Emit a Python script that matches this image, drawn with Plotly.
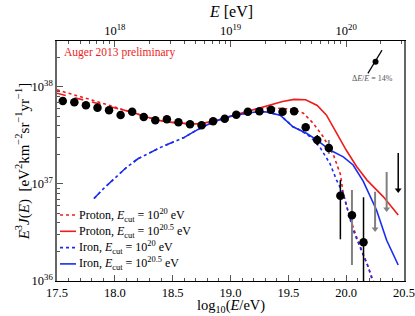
import numpy as np
import plotly.graph_objects as go

# ---------------- data (log10 values) ----------------
# Auger 2013 preliminary points
pts_x = [17.55, 17.65, 17.75, 17.85, 17.95, 18.05, 18.15, 18.25, 18.35, 18.45, 18.55, 18.65,
         18.75, 18.85, 18.95, 19.05, 19.15, 19.25, 19.35, 19.45, 19.55, 19.65, 19.75, 19.85,
         19.95, 20.05, 20.15]
pts_y = [37.856, 37.842, 37.811, 37.787, 37.760, 37.711, 37.745, 37.691, 37.657, 37.667, 37.636,
         37.615, 37.605, 37.646, 37.673, 37.714, 37.745, 37.749, 37.766, 37.745, 37.749, 37.585,
         37.454, 37.371, 36.879, 36.677, 36.399]

# error bars (x, low, high, colour group)
err_black_x = [19.75, 19.95, 20.15]
err_black_lo = [37.402, 36.430, 35.500]
err_black_hi = [37.505, 37.041, 36.863]
err_grey_x = [19.85, 20.05]
err_grey_lo = [37.310, 36.165]
err_grey_hi = [37.454, 36.938]

# upper limits
ul_grey_x = [20.25, 20.35]
ul_grey_top = [36.920, 37.124]
ul_grey_bot = [36.536, 36.742]
ul_black_x = [20.45]
ul_black_top = [37.320]
ul_black_bot = [36.938]

# Proton curves
p_low_x = [17.5, 17.6, 17.7, 17.8, 17.9, 18.0, 18.05]
p20_low_y = [37.970, 37.937, 37.903, 37.866, 37.830, 37.792, 37.770]
p205_low_y = [37.935, 37.905, 37.874, 37.845, 37.815, 37.786, 37.770]
p_mid_x = [18.05, 18.15, 18.25, 18.35, 18.45, 18.55, 18.65, 18.75, 18.85, 18.95, 19.05, 19.15, 19.25]
p_mid_y = [37.770, 37.740, 37.700, 37.665, 37.640, 37.628, 37.620, 37.622, 37.645, 37.675, 37.715,
           37.750, 37.780]
p205_hi_x = [19.25, 19.35, 19.45, 19.55, 19.65, 19.75, 19.83, 19.92, 20.00, 20.09, 20.18, 20.32, 20.45]
p205_hi_y = [37.780, 37.815, 37.850, 37.872, 37.868, 37.810, 37.710, 37.520, 37.350, 37.180, 37.040,
             36.870, 36.680]
p20_hi_x = [19.25, 19.35, 19.45, 19.54, 19.63, 19.715, 19.80, 19.89, 19.95, 19.975, 20.03, 20.10,
            20.18, 20.25]
p20_hi_y = [37.780, 37.785, 37.780, 37.770, 37.730, 37.626, 37.490, 37.300, 37.100, 36.900, 36.660,
            36.420, 36.180, 35.950]

# Iron curves
fe_low_x = [17.82, 17.9, 18.0, 18.1, 18.2, 18.3, 18.4, 18.5, 18.6]
fe_low_y = [36.850, 36.950, 37.060, 37.170, 37.260, 37.320, 37.380, 37.430, 37.480]
fe_mid_x = [18.6, 18.7, 18.8, 18.9, 19.0, 19.1, 19.2, 19.3, 19.43, 19.54]
fe_mid_y = [37.480, 37.550, 37.610, 37.660, 37.700, 37.720, 37.740, 37.745, 37.710, 37.590]
fe205_hi_x = [19.54, 19.66, 19.745, 19.86, 19.975, 20.06, 20.147, 20.263, 20.35, 20.45]
fe205_hi_y = [37.590, 37.520, 37.454, 37.350, 37.280, 37.196, 37.030, 36.730, 36.420, 36.165]
fe20_hi_x = [19.54, 19.60, 19.687, 19.77, 19.86, 19.917, 19.975, 20.06, 20.13, 20.19, 20.24]
fe20_hi_y = [37.590, 37.556, 37.490, 37.385, 37.210, 37.040, 36.900, 36.526, 36.320, 36.147, 35.950]

# energy-scale uncertainty marker
de_x = [20.254]
de_y = [38.26]
de_line_x = [20.188, 20.31]
de_line_y = [38.14, 38.38]

x_ticks = [17.5, 18.0, 18.5, 19.0, 19.5, 20.0, 20.5]
x_ticklabels = ["17.5", "18.0", "18.5", "19.0", "19.5", "20.0", "20.5"]
top_ticks = [18, 19, 20]
top_ticklabels = ["10<sup>18</sup>", "10<sup>19</sup>", "10<sup>20</sup>"]
y_ticks = [36.0, 37.0, 38.0]
y_ticklabels = ["10<sup>36</sup>", "10<sup>37</sup>", "10<sup>38</sup>"]

legend_labels = ["Proton, <i>E</i><sub>cut</sub> = 10<sup>20</sup> eV",
                 "Proton, <i>E</i><sub>cut</sub> = 10<sup>20.5</sup> eV",
                 "Iron, <i>E</i><sub>cut</sub> = 10<sup>20</sup> eV",
                 "Iron, <i>E</i><sub>cut</sub> = 10<sup>20.5</sup> eV"]

# ---------------- figure ----------------
RED = "#ee1c1c"
BLUE = "#1a2cf0"
GREY = "#808080"
FONT = "Liberation Serif, DejaVu Serif, serif"
legend_colors = [RED, RED, BLUE, BLUE]
legend_dash = ["dot", "solid", "dot", "solid"]

def P(v):
    return [10.0 ** a for a in v]

fig = go.Figure()

# Proton 10^20 dotted
fig.add_trace(go.Scatter(x=p_low_x + p_mid_x[1:] + p20_hi_x[1:], y=P(p20_low_y + p_mid_y[1:] + p20_hi_y[1:]),
                         mode="lines", line=dict(color=RED, width=1.6, dash="dot"),
                         name=legend_labels[0], showlegend=False))
# Proton 10^20.5
fig.add_trace(go.Scatter(x=p_low_x, y=P(p205_low_y), mode="lines",
                         line=dict(color=RED, width=1.6, dash="dash"), showlegend=False))
fig.add_trace(go.Scatter(x=p_mid_x + p205_hi_x[1:], y=P(p_mid_y + p205_hi_y[1:]), mode="lines",
                         line=dict(color=RED, width=1.6),
                         name=legend_labels[1], showlegend=False))
# Iron 10^20 dotted
fig.add_trace(go.Scatter(x=fe_low_x + fe_mid_x[1:] + fe20_hi_x[1:], y=P(fe_low_y + fe_mid_y[1:] + fe20_hi_y[1:]),
                         mode="lines", line=dict(color=BLUE, width=1.6, dash="dot"),
                         name=legend_labels[2], showlegend=False))
# Iron 10^20.5
fig.add_trace(go.Scatter(x=fe_low_x, y=P(fe_low_y), mode="lines",
                         line=dict(color=BLUE, width=1.6, dash="dash"), showlegend=False))
fig.add_trace(go.Scatter(x=fe_mid_x + fe205_hi_x[1:], y=P(fe_mid_y + fe205_hi_y[1:]), mode="lines",
                         line=dict(color=BLUE, width=1.6),
                         name=legend_labels[3], showlegend=False))

# error bars
def vbars(xs, lo, hi):
    X, Y = [], []
    for a, l, h in zip(xs, lo, hi):
        X += [a, a, None]
        Y += [10.0 ** l, 10.0 ** h, None]
    return X, Y

X, Y = vbars(err_black_x, err_black_lo, err_black_hi)
fig.add_trace(go.Scatter(x=X, y=Y, mode="lines", line=dict(color="black", width=1.5), showlegend=False))
X, Y = vbars(err_grey_x, err_grey_lo, err_grey_hi)
fig.add_trace(go.Scatter(x=X, y=Y, mode="lines", line=dict(color=GREY, width=2), showlegend=False))
X, Y = vbars(ul_grey_x, ul_grey_bot, ul_grey_top)
fig.add_trace(go.Scatter(x=X, y=Y, mode="lines", line=dict(color=GREY, width=2), showlegend=False))
fig.add_trace(go.Scatter(x=ul_grey_x, y=P(ul_grey_bot), mode="markers",
                         marker=dict(symbol="triangle-down", size=6, color=GREY), showlegend=False))
X, Y = vbars(ul_black_x, ul_black_bot, ul_black_top)
fig.add_trace(go.Scatter(x=X, y=Y, mode="lines", line=dict(color="black", width=1.5), showlegend=False))
fig.add_trace(go.Scatter(x=ul_black_x, y=P(ul_black_bot), mode="markers",
                         marker=dict(symbol="triangle-down", size=6, color="black"), showlegend=False))

# data points
fig.add_trace(go.Scatter(x=pts_x, y=P(pts_y), mode="markers",
                         marker=dict(color="black", size=8.5), showlegend=False))

# energy-scale marker
fig.add_trace(go.Scatter(x=de_line_x, y=P(de_line_y), mode="lines",
                         line=dict(color="black", width=1.2), showlegend=False))
fig.add_trace(go.Scatter(x=de_x, y=P(de_y), mode="markers",
                         marker=dict(color="black", size=6), showlegend=False))

# invisible trace for top axis
fig.add_trace(go.Scatter(x=[18.0, 20.0], y=[1e37, 1e37], xaxis="x2", mode="markers",
                         marker=dict(opacity=0), showlegend=False, hoverinfo="skip"))

top_minor = [float(np.log10(m * 10.0 ** e)) for e in (17, 18, 19, 20) for m in range(2, 10)
             if 17.5 < np.log10(m * 10.0 ** e) < 20.5]
y_minor = [m * 10.0 ** e for e in (36, 37, 38) for m in range(2, 10) if m * 10.0 ** e < 10.0 ** 38.474]

# custom compact legend (short line samples like the original)
PLOT_W, PLOT_H = 347.0, 240.0
shapes = []
annotations = []
for i, (lab, col, dsh) in enumerate(zip(legend_labels, legend_colors, legend_dash)):
    ypix = 66 - i * 16.3  # pixels above the bottom axis
    yp = ypix / PLOT_H
    shapes.append(dict(type="line", xref="paper", yref="paper", x0=3 / PLOT_W, x1=19 / PLOT_W,
                       y0=yp, y1=yp, line=dict(color=col, width=1.6, dash=dsh)))
    annotations.append(dict(text=lab, xref="paper", yref="paper", x=20 / PLOT_W, y=yp,
                            xanchor="left", yanchor="middle", showarrow=False,
                            font=dict(size=12, family=FONT)))

annotations += [
    dict(text="Auger 2013 preliminary", xref="paper", yref="paper", x=0.014, y=0.954,
         xanchor="left", yanchor="middle", showarrow=False,
         font=dict(color=RED, size=11.5, family=FONT)),
    dict(text="Δ<i>E</i>/<i>E</i> = 14%", xref="paper", yref="paper", x=0.91, y=0.842,
         xanchor="center", yanchor="middle", showarrow=False,
         font=dict(color="#555", size=8, family=FONT)),
    dict(text="log<sub>10</sub>(<i>E</i>/eV)", xref="paper", yref="paper", x=0.5, y=-0.103,
         xanchor="center", yanchor="middle", showarrow=False, font=dict(size=14.5, family=FONT)),
    dict(text="<i>E</i> [eV]", xref="paper", yref="paper", x=0.5, y=1.121,
         xanchor="center", yanchor="middle", showarrow=False, font=dict(size=16, family=FONT)),
    dict(text="<i>E</i><sup>3</sup><i>J</i>(<i>E</i>)  [eV<sup>2</sup>km<sup>−2</sup>sr<sup>−1</sup>yr<sup>−1</sup>]",
         xref="paper", yref="paper", x=-0.1, y=0.5, xanchor="center", yanchor="middle",
         textangle=-90, showarrow=False, font=dict(size=15, family=FONT)),
]

fig.update_layout(
    width=415, height=316,
    margin=dict(l=57, r=11, t=41, b=35, autoexpand=False),
    paper_bgcolor="white", plot_bgcolor="white",
    font=dict(family=FONT, size=13, color="black"),
    showlegend=False,
    xaxis=dict(range=[17.5, 20.5], tickvals=x_ticks, ticktext=x_ticklabels, ticks="inside",
               ticklen=6, tickcolor="#555", showline=True, linecolor="black", linewidth=1,
               showgrid=False, zeroline=False, automargin=False, tickfont=dict(size=12.5),
               minor=dict(dtick=0.1, tick0=17.5, ticks="inside", ticklen=3, tickcolor="#555")),
    xaxis2=dict(range=[17.5, 20.5], overlaying="x", side="top", tickvals=top_ticks,
                ticktext=top_ticklabels, ticks="inside", ticklen=6, tickcolor="#555",
                showline=True, linecolor="black", linewidth=1, showgrid=False, zeroline=False,
                automargin=False, tickfont=dict(size=12.5),
                minor=dict(tickvals=top_minor, ticks="inside", ticklen=3, tickcolor="#555")),
    yaxis=dict(type="log", range=[36, 38.474], tickvals=[10.0 ** v for v in y_ticks],
               ticktext=y_ticklabels, ticks="inside", ticklen=6, tickcolor="#555",
               showline=True, linecolor="#666", linewidth=1.5, mirror=True, showgrid=False,
               zeroline=False, automargin=False, tickfont=dict(size=12.5),
               minor=dict(tickvals=y_minor, ticks="inside", ticklen=3, tickcolor="#555")),
    shapes=shapes,
    annotations=annotations,
)

fig.write_html("out.html", config={"displayModeBar": False},
               post_script="document.body.style.margin='0px';document.body.style.overflow='hidden';")
